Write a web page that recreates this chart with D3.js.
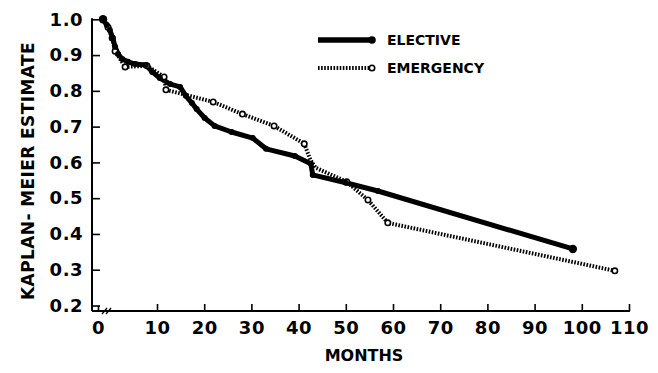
<!DOCTYPE html>
<html>
<head>
<meta charset="utf-8">
<script src="https://cdn.jsdelivr.net/npm/d3@7"></script>
<style>
  body { margin: 0; background: #fff; }
  svg { display: block; font-family: "DejaVu Sans", sans-serif; font-weight: bold; }
</style>
</head>
<body>
<div id="box"></div>
<script>
// months / Kaplan-Meier estimate
var electiveMonths = [0.85, 1.5, 2.0, 2.5, 2.9, 3.4, 4.1, 5.1, 6.3, 8.1, 9.2, 10.6, 12.8, 14.9, 16.1, 17.4, 18.4, 20.1, 22.2, 25.8, 30.3, 33.1, 39.2, 42.6, 43.0, 50.0, 56.8, 98.1];
var electiveValues = [1.0, 0.984, 0.970, 0.948, 0.923, 0.903, 0.889, 0.881, 0.875, 0.872, 0.853, 0.836, 0.819, 0.811, 0.786, 0.766, 0.749, 0.724, 0.702, 0.685, 0.668, 0.638, 0.618, 0.596, 0.565, 0.543, 0.520, 0.358];

var emergencyMonths = [0.85, 1.7, 2.4, 2.9, 4.6, 8.3, 11.5, 11.9, 21.9, 28.1, 34.8, 41.2, 42.5, 43.6, 50.2, 54.7, 58.9, 107.0];
var emergencyValues = [1.0, 0.978, 0.948, 0.911, 0.867, 0.870, 0.839, 0.803, 0.769, 0.735, 0.702, 0.652, 0.607, 0.585, 0.546, 0.495, 0.431, 0.297];

var xTicks = [0, 10, 20, 30, 40, 50, 60, 70, 80, 90, 100, 110];
var yTicks = [0.2, 0.3, 0.4, 0.5, 0.6, 0.7, 0.8, 0.9, 1.0];
var seriesNames = ["ELECTIVE", "EMERGENCY"];

var width = 658, height = 373;

var svg = d3.select("#box")
    .append("svg")
    .attr("width", width)
    .attr("height", height);

// axis is broken between 0 and 10, so the first decade is squeezed
var x = d3.scaleLinear().domain([0, 10, 110]).range([98, 157, 629]);
var y = d3.scaleLinear().domain([0.2, 1.0]).range([305.5, 19.3]);

var axisX0 = 92, axisY0 = 311;

// axis lines
svg.append("line")
    .attr("x1", axisX0).attr("x2", axisX0)
    .attr("y1", y(1.0) - 1).attr("y2", axisY0)
    .attr("stroke", "#000").attr("stroke-width", 2);
svg.append("line")
    .attr("x1", axisX0).attr("x2", x(110) + 1)
    .attr("y1", axisY0).attr("y2", axisY0)
    .attr("stroke", "#000").attr("stroke-width", 2);

// axis break marks
[0, 4].forEach(function(o) {
    svg.append("line")
        .attr("x1", 102 + o).attr("y1", axisY0 + 3)
        .attr("x2", 107 + o).attr("y2", axisY0 - 3)
        .attr("stroke", "#000").attr("stroke-width", 1.3);
});

var yAxis = svg.append("g")
    .attr("transform", "translate(" + axisX0 + ",0)")
    .call(d3.axisLeft(y).tickValues(yTicks).tickSize(-8).tickPadding(9)
        .tickFormat(d3.format(".1f")));

var xAxis = svg.append("g")
    .attr("transform", "translate(0," + axisY0 + ")")
    .call(d3.axisBottom(x).tickValues(xTicks).tickSize(-7).tickPadding(10)
        .tickFormat(d3.format("d")));

[yAxis, xAxis].forEach(function(a) {
    a.select(".domain").remove();
    a.selectAll(".tick line").attr("stroke", "#000").attr("stroke-width", 1.6);
    a.selectAll(".tick text")
        .attr("fill", "#000")
        .style("font-size", "18px")
        .style("letter-spacing", "0.5px")
        .style("font-family", "'DejaVu Sans', sans-serif")
        .style("font-weight", "bold");
});
xAxis.selectAll(".tick").filter(function(d) { return d === 0; })
    .select("line").attr("y2", -5);

// axis titles
svg.append("text")
    .attr("transform", "translate(34,171) rotate(-90)")
    .attr("text-anchor", "middle")
    .style("font-size", "17px")
    .style("letter-spacing", "0.4px")
    .text("KAPLAN- MEIER ESTIMATE");

svg.append("text")
    .attr("x", 364).attr("y", 361)
    .attr("text-anchor", "middle")
    .style("font-size", "16px")
    .text("MONTHS");

var elective = electiveMonths.map(function(m, i) { return { m: m, v: electiveValues[i] }; });
var emergency = emergencyMonths.map(function(m, i) { return { m: m, v: emergencyValues[i] }; });

var line = d3.line()
    .x(function(d) { return x(d.m); })
    .y(function(d) { return y(d.v); });

svg.append("path")
    .datum(emergency)
    .attr("d", line)
    .attr("fill", "none")
    .attr("stroke", "#000")
    .attr("stroke-width", 4)
    .attr("stroke-dasharray", "1.6,1.5");

svg.append("path")
    .datum(elective)
    .attr("d", line)
    .attr("fill", "none")
    .attr("stroke", "#000")
    .attr("stroke-width", 5)
    .attr("stroke-linejoin", "round")
    .attr("stroke-linecap", "round");

svg.selectAll(".emg")
    .data(emergency.filter(function(d) { return d.m < 42 || d.m > 44; }))
    .enter()
    .append("circle")
    .attr("class", "emg")
    .attr("cx", function(d) { return x(d.m); })
    .attr("cy", function(d) { return y(d.v); })
    .attr("r", 2.7)
    .attr("fill", "#fff")
    .attr("stroke", "#000")
    .attr("stroke-width", 1.6);

svg.selectAll(".elc")
    .data(elective)
    .enter()
    .append("circle")
    .attr("class", "elc")
    .attr("cx", function(d) { return x(d.m); })
    .attr("cy", function(d) { return y(d.v); })
    .attr("r", function(d, i) { return (i === 0 || i === elective.length - 1) ? 4.2 : 3; })
    .attr("fill", "#000");

// legend
var legend = svg.append("g");
legend.append("line")
    .attr("x1", 318).attr("x2", 372).attr("y1", 40).attr("y2", 40)
    .attr("stroke", "#000").attr("stroke-width", 5.5);
legend.append("circle").attr("cx", 372).attr("cy", 40).attr("r", 3.8).attr("fill", "#000");
legend.append("line")
    .attr("x1", 318).attr("x2", 370).attr("y1", 68).attr("y2", 68)
    .attr("stroke", "#000").attr("stroke-width", 4).attr("stroke-dasharray", "1.6,1.5");
legend.append("circle").attr("cx", 372).attr("cy", 68).attr("r", 2.7)
    .attr("fill", "#fff").attr("stroke", "#000").attr("stroke-width", 1.6);

legend.selectAll("text")
    .data(seriesNames)
    .enter()
    .append("text")
    .attr("x", 387)
    .attr("y", function(d, i) { return 45 + i * 28; })
    .style("font-size", "14px")
    .text(function(d) { return d; });
</script>
</body>
</html>
